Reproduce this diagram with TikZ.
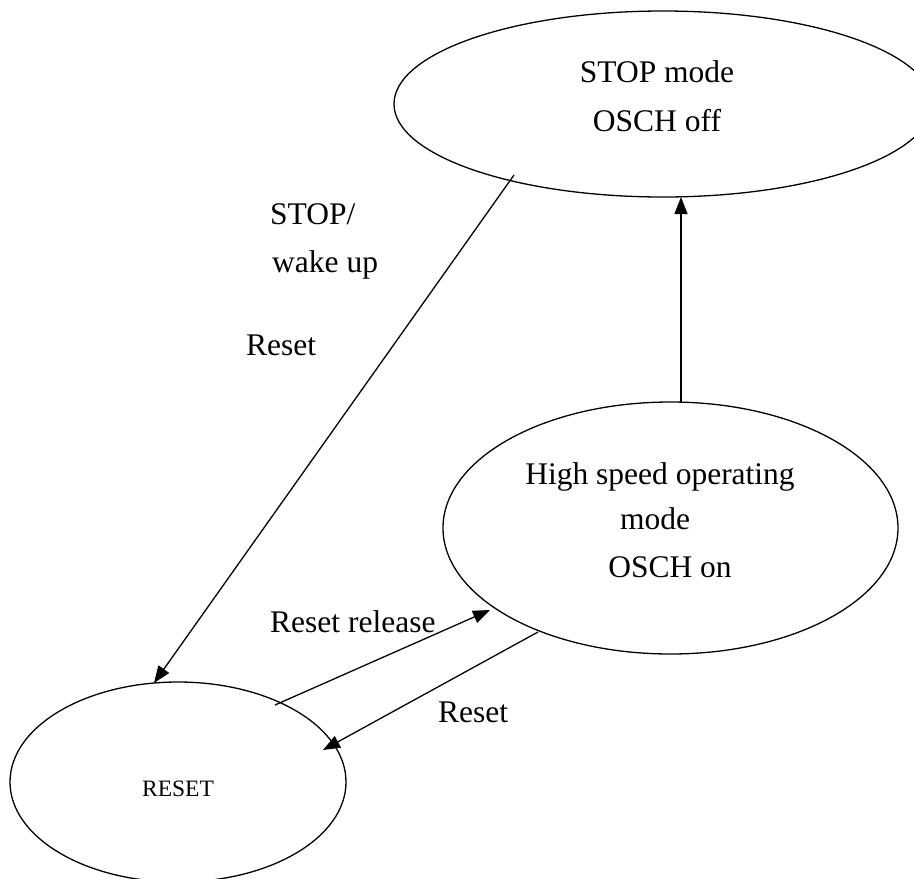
\documentclass[tikz,border=0pt]{standalone}
\usepackage{fontspec}
\setmainfont{Liberation Serif}
\usetikzlibrary{shapes.geometric,arrows.meta}
\begin{document}
\begin{tikzpicture}[x=1pt,y=-1pt,
  state/.style={draw,ellipse,line width=1.3pt,inner sep=0pt},
  lbl/.style={font=\fontsize{31.5}{36}\selectfont,inner sep=0pt,anchor=base},
  small/.style={font=\fontsize{23.5}{28}\selectfont,inner sep=0pt,anchor=base},
  arr/.style={line width=1.3pt,-{Triangle[length=17pt,width=13pt]}}]
\useasboundingbox (0,0) rectangle (914,879);
% states
\node[state,minimum width=538pt,minimum height=186pt] (stop) at (663,104) {};
\node[state,minimum width=455pt,minimum height=252pt] (high) at (670.5,528) {};
\node[state,minimum width=336pt,minimum height=200pt] (reset) at (178,782) {};
% state texts
\node[lbl] (t1) at (657,82) {STOP mode};
\node[lbl] (t2) at (657,131) {OSCH off};
\node[lbl] (t3) at (660,484) {High speed operating};
\node[lbl] (t4) at (655,529) {mode};
\node[lbl] (t5) at (670,577) {OSCH on};
\node[small] (t6) at (178,796) {RESET};
% connector end points
\coordinate (a1) at (514,175);
\coordinate (a2) at (154,683);
\coordinate (b1) at (681,402);
\coordinate (b2) at (681,197);
\coordinate (c1) at (275,705);
\coordinate (c2) at (490,610);
\coordinate (d1) at (538,632);
\coordinate (d2) at (323,750);
\draw[arr] (a1) -- (a2);
\draw[arr] (b1) -- (b2);
\draw[arr] (c1) -- (c2);
\draw[arr] (d1) -- (d2);
% labels
\node[lbl,anchor=base west] (l1) at (270,224) {STOP/};
\node[lbl,anchor=base west] (l2) at (272,272) {wake up};
\node[lbl,anchor=base west] (l3) at (246,355) {Reset};
\node[lbl,anchor=base west] (l4) at (270,632) {Reset release};
\node[lbl,anchor=base west] (l5) at (438,722) {Reset};
\end{tikzpicture}
\end{document}
